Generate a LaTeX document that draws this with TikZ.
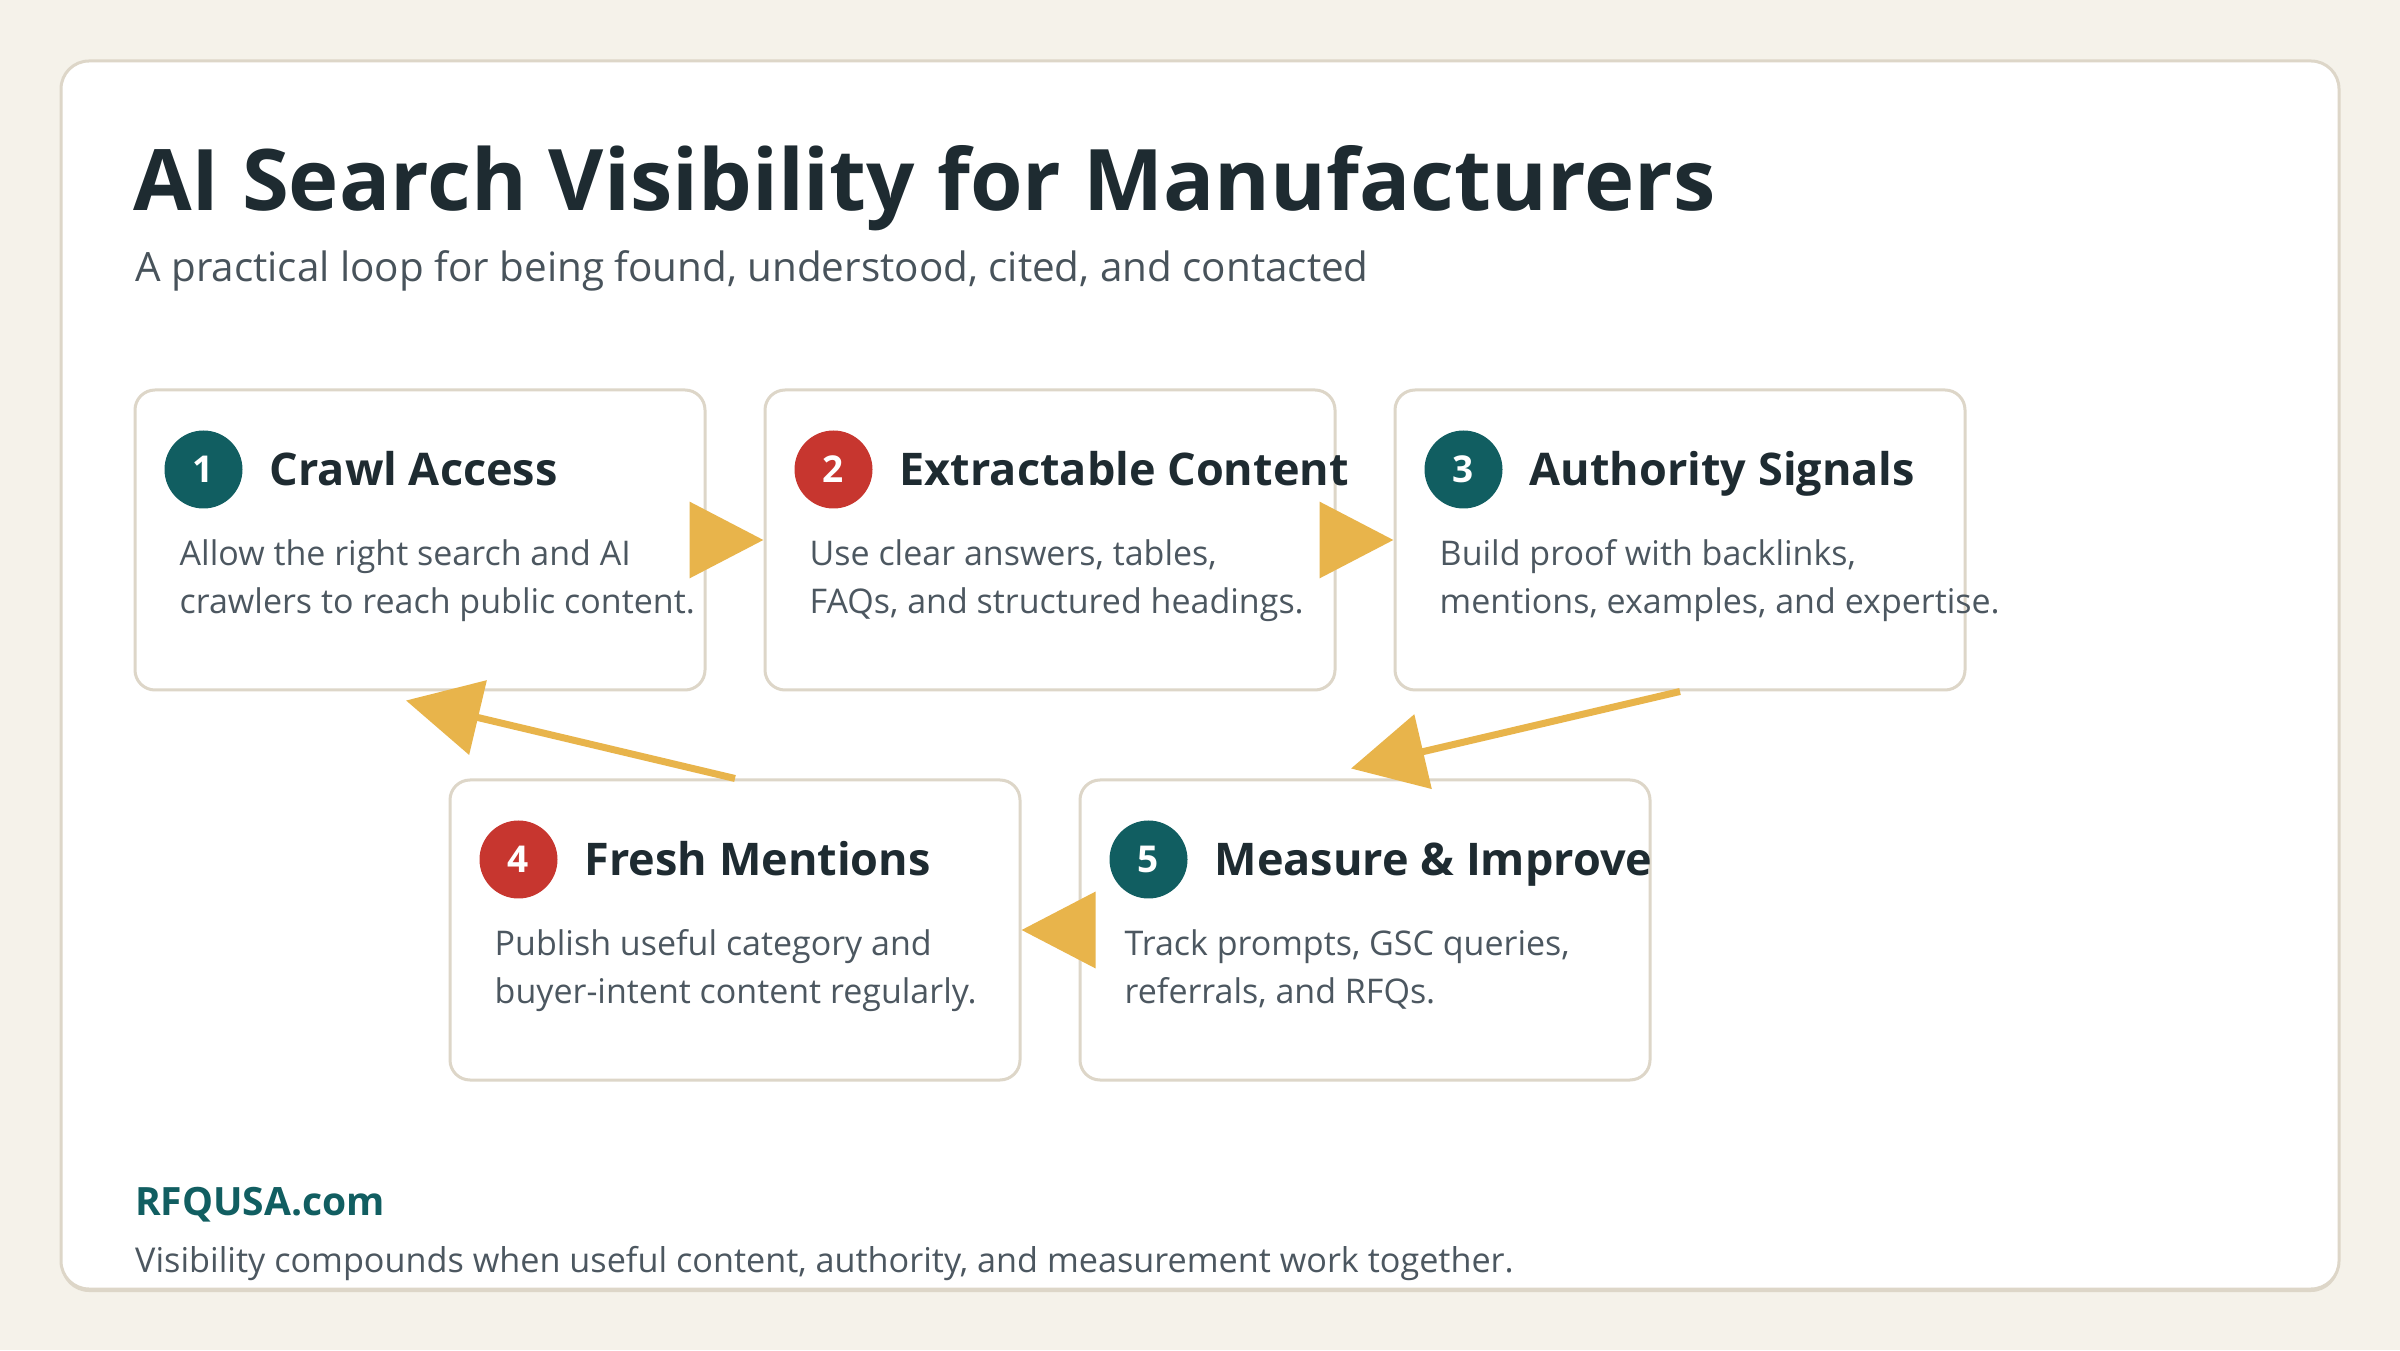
\documentclass[tikz,border=0pt]{standalone}
\usepackage{fontspec}
\IfFontExistsTF{Noto Sans Bold}
    {\setmainfont{Noto Sans}[BoldFont={Noto Sans Bold}]}
    {\setmainfont{Open Sans}}
\usepackage{tikz}
\usetikzlibrary{positioning,arrows.meta}

\definecolor{paper}{HTML}{F5F2EA}
\definecolor{edge}{HTML}{DDD6C8}
\definecolor{ink}{HTML}{1E2B31}
\definecolor{slate}{HTML}{4C5760}
\definecolor{teal}{HTML}{115E61}
\definecolor{brick}{HTML}{C7362F}
\definecolor{gold}{HTML}{E8B44B}

\begin{document}
\begin{tikzpicture}[
        x=1pt, y=1pt,
        card/.style = {draw=edge, line width=3pt, fill=white, rounded corners=20pt,
                       minimum width=570pt, minimum height=300pt, inner sep=0pt},
        num/.style  = {circle, fill=#1, minimum size=78pt, inner sep=0pt, text=white,
                       font=\bfseries\fontsize{37}{37}\selectfont},
        head/.style = {anchor=base west, inner sep=0pt, text=ink,
                       font=\bfseries\fontsize{45}{54}\selectfont},
        body/.style = {anchor=base west, inner sep=0pt, align=left, text=slate,
                       font=\fontsize{34}{48}\selectfont},
        flow/.style = {draw=gold, line width=7pt, -{Triangle[length=74pt,width=75pt]}},
        node distance = 57pt
    ]
        % page and panel
        \fill[paper] (0,0) rectangle (2400,1350);
        \useasboundingbox (0,0) rectangle (2400,1350);
        \fill[edge, rounded corners=28pt] (61,58) rectangle (2339,1286);
        \draw[edge, line width=3pt, fill=white, rounded corners=28pt] (61,61) rectangle (2339,1289);

        % heading
        \node[anchor=base west, inner sep=0pt, text=ink, font=\bfseries\fontsize{85}{100}\selectfont]
            (title) at (133,1139) {AI Search Visibility for Manufacturers};
        \node[anchor=base west, inner sep=0pt, text=slate!95!black, font=\fontsize{40.4}{46}\selectfont]
            (sub) at (135,1068) {A practical loop for being found, understood, cited, and contacted};

        % top row
        \node[card]                    (crawl)   at (420,810) {};
        \node[card, right=of crawl]    (extract) {};
        \node[card, right=of extract]  (auth)    {};
        % bottom row
        \node[card]                    (fresh)   at (735,420) {};
        \node[card, right=of fresh]    (measure) {};

        \node[num=teal]  (n1) at ([xshift=70pt,yshift=-81pt]crawl.north west)   {1};
        \node[num=brick] (n2) at ([xshift=70pt,yshift=-81pt]extract.north west) {2};
        \node[num=teal]  (n3) at ([xshift=70pt,yshift=-81pt]auth.north west)    {3};
        \node[num=brick] (n4) at ([xshift=70pt,yshift=-81pt]fresh.north west)   {4};
        \node[num=teal]  (n5) at ([xshift=70pt,yshift=-81pt]measure.north west) {5};

        \node[head] at ([xshift=136pt,yshift=-97pt]crawl.north west)   {Crawl Access};
        \node[head] at ([xshift=136pt,yshift=-97pt]extract.north west) {Extractable Content};
        \node[head] at ([xshift=136pt,yshift=-97pt]auth.north west)    {Authority Signals};
        \node[head] at ([xshift=136pt,yshift=-97pt]fresh.north west)   {Fresh Mentions};
        \node[head] at ([xshift=136pt,yshift=-97pt]measure.north west) {Measure \& Improve};

        % base of a two-line node sits on its second line
        \node[body] at ([xshift=46pt,yshift=-225pt]crawl.north west)
            {Allow the right search and AI\\crawlers to reach public content.};
        \node[body] at ([xshift=46pt,yshift=-225pt]extract.north west)
            {Use clear answers, tables,\\FAQs, and structured headings.};
        \node[body] at ([xshift=46pt,yshift=-225pt]auth.north west)
            {Build proof with backlinks,\\mentions, examples, and expertise.};
        \node[body] at ([xshift=46pt,yshift=-225pt]fresh.north west)
            {Publish useful category and\\buyer-intent content regularly.};
        \node[body] at ([xshift=46pt,yshift=-225pt]measure.north west)
            {Track prompts, GSC queries,\\referrals, and RFQs.};

        % loop arrows
        \draw[flow] (crawl.east)   -- (extract.west);
        \draw[flow] (extract.east) -- (auth.west);
        \draw[flow] (auth.south)   -- ([xshift=-14pt,yshift=10pt]measure.north);
        \draw[flow] (measure.west) -- (fresh.east);
        \draw[flow] (fresh.north)  -- ([xshift=-14pt,yshift=-9pt]crawl.south);

        % footer
        \node[anchor=base west, inner sep=0pt, text=teal, font=\bfseries\fontsize{39}{46}\selectfont]
            (site) at (135,135) {RFQUSA.com};
        \node[anchor=base west, inner sep=0pt, text=slate, font=\fontsize{34.2}{40}\selectfont]
            (note) at (135,78) {Visibility compounds when useful content, authority, and measurement work together.};
    \end{tikzpicture}
\end{document}
